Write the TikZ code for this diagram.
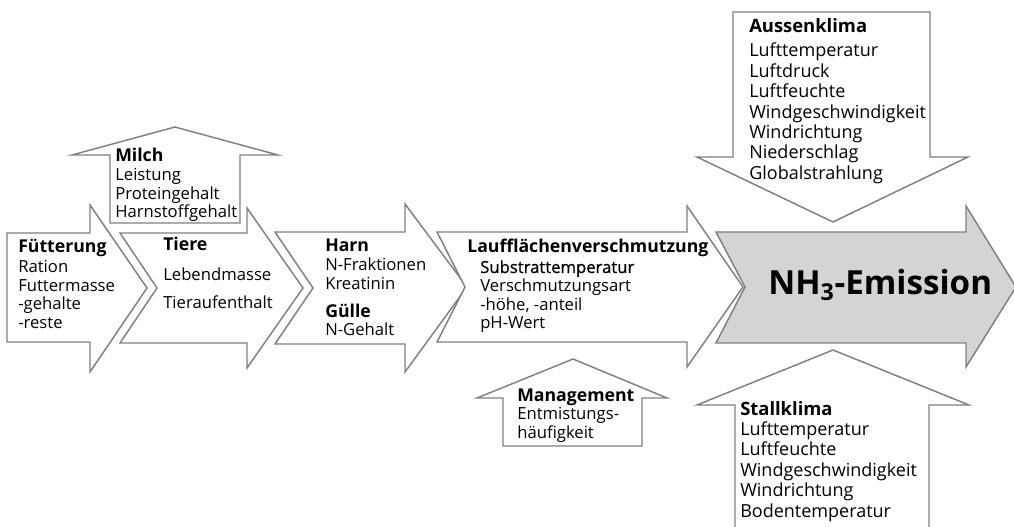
\documentclass[tikz,border=0pt]{standalone}
\usepackage{fontspec}
\setmainfont{Open Sans}
\newfontfamily\semib[FakeBold=0.8]{Open Sans}
\newcommand\hdl[1]{{\fontsize{13.25}{13.9}\selectfont\bfseries #1}}
\newcommand\hdr[1]{{\fontsize{13.8}{15.3}\selectfont\bfseries #1}}
\definecolor{linegray}{RGB}{128,128,128}
\definecolor{nhfill}{RGB}{212,212,212}
\tikzset{
  arr/.style={draw=linegray, line width=1.1pt, fill=white, line join=miter},
  txt/.style={anchor=base west, inner sep=0pt, font=\fontsize{12.5}{13.9}\selectfont},
  txtr/.style={anchor=base west, inner sep=0pt, font=\fontsize{13.5}{15.3}\selectfont},
}
\begin{document}
\begin{tikzpicture}[x=0.75pt,y=-0.75pt]
\useasboundingbox (0,0) rectangle (1014,527);
\clip (0,0) rectangle (1014,527);
% main chain
\path[arr] (7,233) -- (90,233) -- (90,205) -- (147,288) -- (90,372) -- (90,342) -- (7,342) -- cycle;
\path[arr] (120,233) -- (247,233) -- (247,208) -- (303,288) -- (247,368) -- (247,343) -- (120,343) -- (157,288) -- cycle;
\path[arr] (275,232) -- (405,232) -- (405,204) -- (467,287) -- (405,372) -- (405,344) -- (275,344) -- (313,288) -- cycle;
\path[arr] (437,232) -- (687,232) -- (687,206) -- (743,287) -- (687,367) -- (687,342) -- (437,342) -- (465,287) -- cycle;
\path[arr, fill=nhfill] (716,232) -- (966,232) -- (966,206) -- (1016,287) -- (966,367) -- (966,343) -- (716,343) -- (745,287) -- cycle;
% side arrows
\path[arr] (110,223) -- (110,155) -- (72,155) -- (175,127) -- (278,155) -- (240,155) -- (240,223) -- cycle;
\path[arr] (503,446) -- (503,398) -- (477,398) -- (573,359) -- (667,398) -- (642,398) -- (642,446) -- cycle;
\path[arr] (733,12) -- (930,12) -- (930,157) -- (968,157) -- (833,222) -- (697,157) -- (733,157) -- cycle;
\path[arr] (735,560) -- (735,405) -- (697,405) -- (833,350) -- (969,405) -- (929,405) -- (929,560);
% texts
\node[txt] (fuet) at (18,253) {\begin{tabular}[t]{@{}l@{}}\hdl{Fütterung}\\[0.8pt] Ration\\ Futtermasse\\ -gehalte\\ -reste\end{tabular}};
\node[txt] (tiere) at (163,251) {\begin{tabular}[t]{@{}l@{}}\hdl{Tiere}\\[8.6pt] Lebendmasse\\[7pt] Tieraufenthalt\end{tabular}};
\node[txt] (milch) at (115,162) {\begin{tabular}[t]{@{}l@{}}\hdl{Milch}\\ Leistung\\ Proteingehalt\\ Harnstoffgehalt\end{tabular}};
\node[txt] (harn) at (325,252) {\begin{tabular}[t]{@{}l@{}}\hdl{Harn}\\ N-Fraktionen\\ Kreatinin\\[7pt] \hdl{Gülle}\\ N-Gehalt\end{tabular}};
\node[txt] (lauf) at (467,253) {\hdl{Laufflächenverschmutzung}};
\node[txt] (laufb) at (480,273) {\begin{tabular}[t]{@{}l@{}}{\semib Substrattemperatur}\\ Verschmutzungsart\\ -höhe, -anteil\\ pH-Wert\end{tabular}};
\node[txt] (mgmt) at (517,401) {\begin{tabular}[t]{@{}l@{}}\hdl{Management}\\ Entmistungs-\\ häufigkeit\end{tabular}};
\node[txtr] (aussen) at (749,33) {\begin{tabular}[t]{@{}l@{}}\hdr{Aussenklima}\\[2.6pt] Lufttemperatur\\ Luftdruck\\ Luftfeuchte\\ Windgeschwindigkeit\\ Windrichtung\\ Niederschlag\\ Globalstrahlung\end{tabular}};
\node[txtr] (stall) at (740,415) {\begin{tabular}[t]{@{}l@{}}\hdr{Stallklima}\\ Lufttemperatur\\ Luftfeuchte\\ Windgeschwindigkeit\\ Windrichtung\\ Bodentemperatur\end{tabular}};
\node[anchor=base west, inner sep=0pt, font=\fontsize{24.9}{28}\selectfont\bfseries] (nh3) at (768,295) {NH\textsubscript{3}-Emission};
\end{tikzpicture}
\end{document}
